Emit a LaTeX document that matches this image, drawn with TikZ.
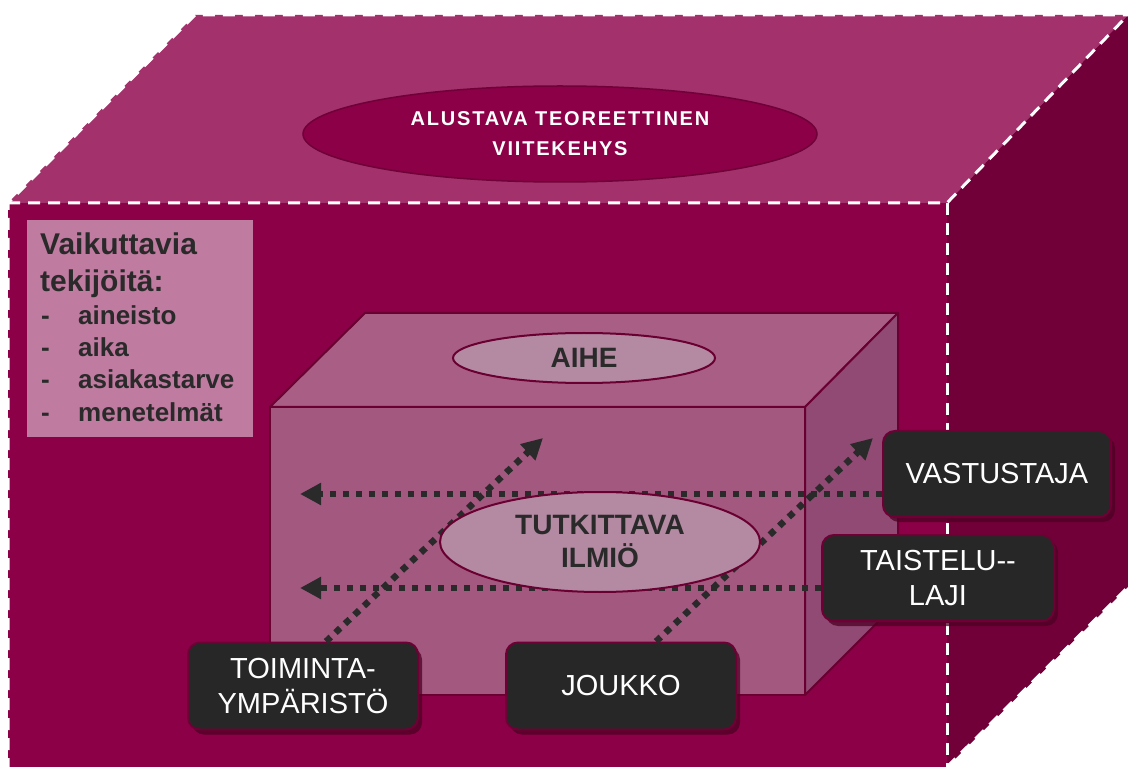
\documentclass[tikz,border=0pt]{standalone}
\usepackage{fontspec}
\setmainfont{Liberation Sans}
\usetikzlibrary{arrows.meta,shadows,shapes.geometric}
\definecolor{topf}{HTML}{A3316B}
\definecolor{frontf}{HTML}{8B0046}
\definecolor{sidef}{HTML}{720038}
\definecolor{ellbig}{HTML}{8B0047}
\definecolor{ellbigedge}{HTML}{6F0038}
\definecolor{lboxc}{HTML}{C07BA0}
\definecolor{itop}{HTML}{A95E86}
\definecolor{ifront}{HTML}{A3587F}
\definecolor{iside}{HTML}{904A74}
\definecolor{iedge}{HTML}{6A0032}
\definecolor{ellsmall}{HTML}{B48AA3}
\definecolor{darktext}{HTML}{2A2A2A}
\definecolor{boxc}{HTML}{272727}
\definecolor{boxedge}{HTML}{6E0035}
\definecolor{shadowc}{HTML}{4D0024}
\newcommand{\fsz}[2]{\fontsize{#1}{#2}\selectfont}
\tikzset{
  cubeedge/.style={draw=white, line width=3pt, dash pattern=on 12pt off 8pt},
  inneredge/.style={draw=iedge, line width=2pt, line join=round},
  blkbox/.style={rectangle, rounded corners=12pt, fill=boxc, draw=boxedge, line width=2pt,
    text=white, font=\fsz{29}{35}, align=center, minimum width=230pt, minimum height=87pt,
    inner sep=0pt, drop shadow={shadow xshift=4pt, shadow yshift=-5pt, fill=shadowc, opacity=0.75}},
  smallell/.style={ellipse, fill=ellsmall, draw=iedge, line width=2pt, inner sep=0pt,
    text=darktext, font=\fsz{28}{33}\bfseries, align=center},
  darr/.style={draw=darktext, line width=6.5pt, dash pattern=on 6.5pt off 6.5pt,
    -{Triangle[length=21pt,width=21pt]}},
  lbtext/.style={anchor=base west, inner sep=0pt, text=darktext}
}
\begin{document}
\begin{tikzpicture}[x=1pt,y=-1pt]
\useasboundingbox (0,0) rectangle (1128,767);
\clip (0,0) rectangle (1128,767);
% outer cube
\fill[topf] (8,203) -- (195,15) -- (1128,15) -- (947,203) -- cycle;
\fill[sidef] (947,203) -- (1128,15) -- (1132,15) -- (1132,583) -- (947,767) -- cycle;
\fill[frontf] (8,203) rectangle (947,770);
\draw[cubeedge] (8,770) -- (8,203) -- (195,15) -- (1132,15);
\draw[cubeedge] (8,203) -- (947,203) -- (1128,15);
\draw[cubeedge] (947,203) -- (947,770);
\draw[cubeedge] (947,767) -- (1128,587);
% top ellipse
\node[ellipse, fill=ellbig, draw=ellbigedge, line width=1.5pt, minimum width=514pt, minimum height=96pt,
  inner sep=0pt, text=white, align=center, font=\fsz{20}{30}\bfseries\addfontfeature{LetterSpace=9}]
  (frame) at (560,134) {ALUSTAVA TEOREETTINEN\\VIITEKEHYS};
% left box
\node[rectangle, fill=lboxc, anchor=north west, minimum width=226pt, minimum height=217pt, inner sep=0pt]
  (lbox) at (27,220) {};
\node[lbtext, font=\fsz{30}{33}\bfseries] (t1) at (40,255) {Vaikuttavia};
\node[lbtext, font=\fsz{30}{33}\bfseries] (t2) at (40,292) {tekijöitä:};
\node[lbtext, font=\fsz{26}{32}\bfseries] (d1) at (41,325) {-};
\node[lbtext, font=\fsz{26}{32}\bfseries] (i1) at (78,325) {aineisto};
\node[lbtext, font=\fsz{26}{32}\bfseries] (d2) at (41,357) {-};
\node[lbtext, font=\fsz{26}{32}\bfseries] (i2) at (78,357) {aika};
\node[lbtext, font=\fsz{26}{32}\bfseries] (d3) at (41,389) {-};
\node[lbtext, font=\fsz{26}{32}\bfseries] (i3) at (78,389) {asiakastarve};
\node[lbtext, font=\fsz{26}{32}\bfseries] (d4) at (41,421) {-};
\node[lbtext, font=\fsz{26}{32}\bfseries] (i4) at (78,421) {menetelmät};
% inner box
\filldraw[fill=itop, inneredge] (270,407) -- (365,313) -- (898,313) -- (805,407) -- cycle;
\filldraw[fill=iside, inneredge] (805,407) -- (898,313) -- (898,602) -- (805,695) -- cycle;
\filldraw[fill=ifront, inneredge] (270,407) rectangle (805,695);
\node[smallell, minimum width=262pt, minimum height=50pt] (aihe) at (584,358) {AIHE};
% black boxes
\node[blkbox] (toim) at (303,686) {TOIMINTA-\\YMPÄRISTÖ};
\node[blkbox] (jouk) at (621,686) {JOUKKO};
\node[blkbox, minimum width=228pt, minimum height=86pt] (vast) at (997,474) {VASTUSTAJA};
\node[blkbox, minimum width=232pt, minimum height=86pt] (tais) at (938,578) {TAISTELU-{}-\\LAJI};
% arrows
\coordinate (h1) at (300,494);
\coordinate (h2) at (300,588);
\coordinate (s1) at (326,0);
\coordinate (s2) at (656,0);
\coordinate (e1) at (543,438);
\coordinate (e2) at (873,438);
\draw[darr] (vast.west |- h1) -- (h1);
\draw[darr] (tais.west |- h2) -- (h2);
\draw[darr] (toim.north -| s1) -- (e1);
\draw[darr] (jouk.north -| s2) -- (e2);
% central ellipse
\node[smallell, minimum width=320pt, minimum height=100pt] (ilmio) at (600,542) {TUTKITTAVA\\ILMIÖ};
\end{tikzpicture}
\end{document}
